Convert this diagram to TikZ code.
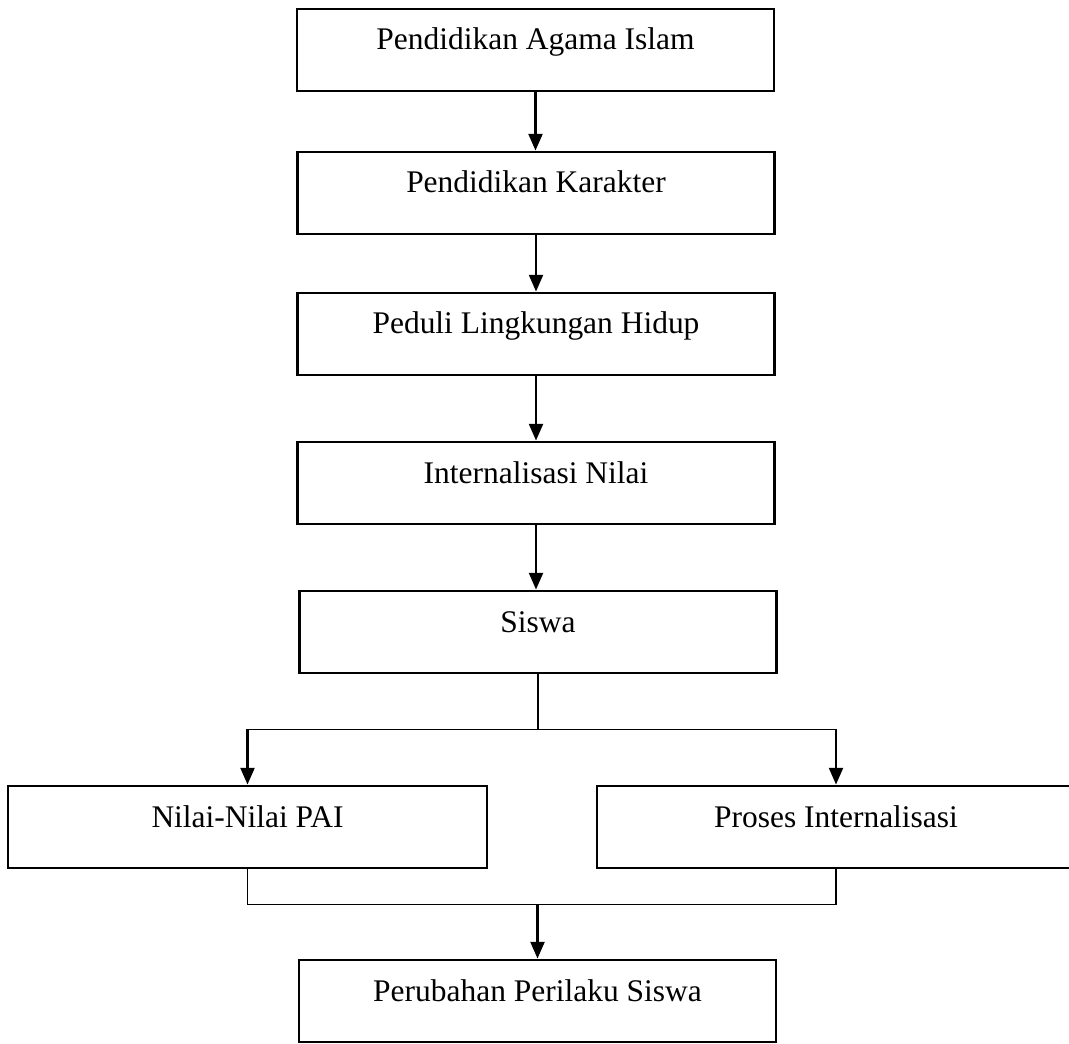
\documentclass[tikz,border=0pt]{standalone}
\usepackage{fontspec}
\setmainfont{Liberation Serif}
\usetikzlibrary{arrows.meta,calc}
\begin{document}
\begin{tikzpicture}[x=0.75pt,y=-0.75pt,
  box/.style={draw=black,line width=2.2pt,rectangle,inner sep=0pt,
    minimum width=357.75pt,text height=30.75pt,text depth=30.75pt,
    font=\fontsize{23.6}{28}\selectfont},
  flow/.style={line width=1.6pt,-{Triangle[width=10.5pt,length=12.5pt]}},
  thinline/.style={line width=0.8pt}]
\useasboundingbox (0,0) rectangle (1069,1044);
\node[box] (b1) at (535.5,50) {Pendidikan Agama Islam};
\node[box] (b2) at (536,193) {Pendidikan Karakter};
\node[box] (b3) at (536,334) {Peduli Lingkungan Hidup};
\node[box] (b4) at (536,483) {Internalisasi Nilai};
\node[box] (b5) at (538,632) {Siswa};
\node[box,minimum width=359.25pt] (b6) at (247.5,827) {Nilai-Nilai PAI};
\node[box,minimum width=358.5pt] (b7) at (836,827) {Proses Internalisasi};
\node[box] (b8) at (537.5,1001) {Perubahan Perilaku Siswa};
\draw[flow] (b1.south) -- (b1.south |- b2.north);
\draw[flow] (b2.south) -- (b2.south |- b3.north);
\draw[flow] (b3.south) -- (b3.south |- b4.north);
\draw[flow] (b4.south) -- (b4.south |- b5.north);
\coordinate (j1) at ($(b5.south)+(0,55)$);
\coordinate (j2) at ($(b6.south)+(0,35)$);
\draw[thinline] (b5.south) -- (j1);
\draw[thinline] (b6.north |- j1) -- (b7.north |- j1);
\draw[flow] (b6.north |- j1) -- (b6.north);
\draw[flow] (b7.north |- j1) -- (b7.north);
\draw[thinline] (b6.south) -- (b6.south |- j2) -- (b7.south |- j2) -- (b7.south);
\draw[flow] (b8.north |- j2) -- (b8.north);
\end{tikzpicture}
\end{document}
